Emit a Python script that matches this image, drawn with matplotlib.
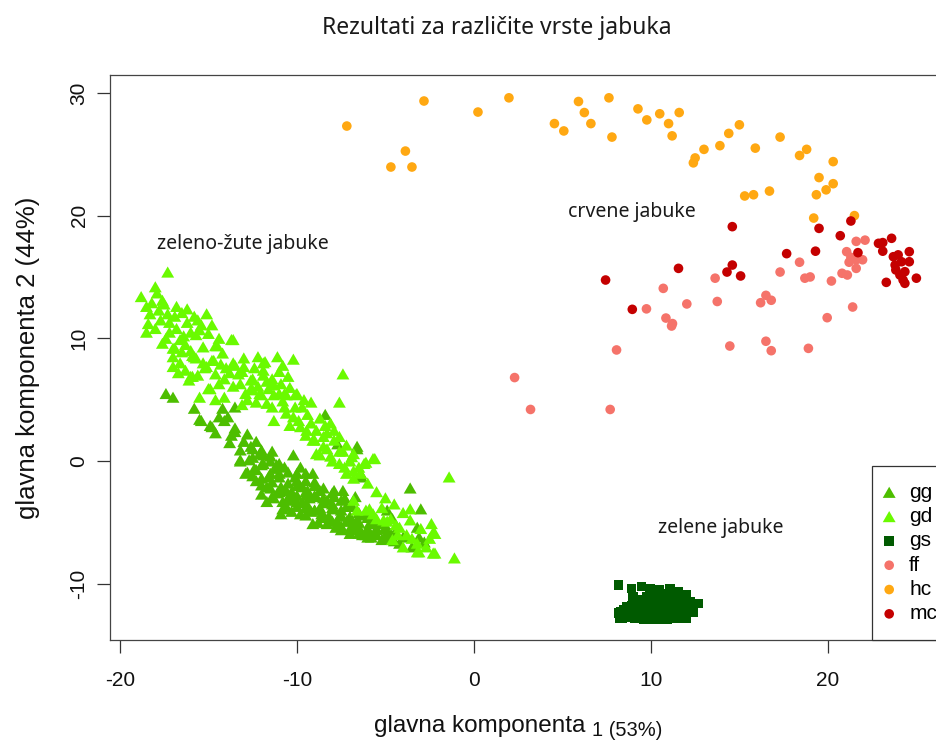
import matplotlib
matplotlib.use('Agg')
import matplotlib.pyplot as plt
from matplotlib.path import Path

plt.rcParams['axes.unicode_minus'] = False

# ---------------- data ----------------
series_names = ['gg', 'gd', 'gs', 'ff', 'hc', 'mc']
series_colors = ['#4DBE00', '#6AFA00', '#005A00', '#F5736A', '#FFA812', '#C40000']

gg_pts = [(-17.4,5.5),(-17.0,5.2),(-15.8,4.3),(-15.5,3.4),(-14.9,2.9),(-14.2,4.3),(-13.9,3.6),(-13.5,4.4),
          (-13.5,2.7),(-13.7,2.1),(-13.2,0.9),(-12.6,1.2),(-12.3,1.6),(-12.1,0.6),(-13.2,0.1),(-12.8,-0.9),
          (-12.4,-0.6),(-11.9,-0.2),(-11.5,0.4),(-11.2,-0.6),(-12.3,-1.6),(-11.7,-2.1),(-11.0,-1.3),(-10.7,-0.5),
          (-11.1,-2.6),(-11.3,-3.0),(-10.6,-2.4),(-10.3,-3.2),(-10.0,-1.6),(-9.7,-2.1),(-9.5,-2.8),(-9.4,-3.6),
          (-9.0,-4.0),(-8.6,-4.3),(-8.3,-3.2),(-7.9,-3.9),(-7.6,-4.5),(-8.1,-4.8),(-7.2,-4.9),(-6.8,-5.4),
          (-6.4,-5.8),(-6.1,-6.0),(-5.5,-5.6),(-5.2,-6.4),(-4.9,-4.0),(-4.6,-4.7),(-3.6,-2.2),(-3.0,-3.9),
          (-3.2,-5.4),(-2.8,-6.6),(-5.9,-5.1),(-8.9,-2.9),(-9.4,-2.4),(-9.8,-0.5),(-10.2,0.5),(-9.1,-1.0),
          (-8.4,3.8),(-7.7,1.4),(-6.6,1.0),(-6.4,-1.0),(-7.4,-2.4),(-6.7,-2.9),(-9.8,-4.3),(-10.6,-3.7),
          (-10.9,-4.3),(-8.7,-2.4),(-7.9,-2.9),(-7.2,-3.7),(-9.5,-4.4),(-8.3,-5.1),(-7.8,-5.4),(-7.0,-5.9),
          (-6.6,-4.8),(-5.7,-4.5),(-4.7,-5.9),(-4.2,-6.7),(-3.5,-7.0),(-3.1,-6.2),(-10.0,-3.7),(-9.1,-5.1),
          (-11.6,-1.3),(-12.7,0.1),(-14.4,3.6),(-14.6,2.3),
          (-15.4,3.3),(-14.8,2.8),(-14.1,3.3),(-13.5,2.4),(-13.2,0.0),(-12.5,1.0),(-11.9,0.5),(-11.4,0.8),
          (-11.15,-0.3),(-12.9,-1.0),(-12.3,-0.7),(-12.0,-1.95),(-11.4,-1.7),(-10.9,-2.1),(-11.4,-2.9),
          (-10.8,-3.3),(-10.3,-4.1),(-10.1,-1.3),(-10.3,-2.5),
          (-9.5,-1.0),(-9.0,-2.0),(-8.5,-3.0),(-8.0,-3.5),(-7.5,-4.0),(-7.0,-4.5),(-6.5,-5.0),(-6.0,-5.5),
          (-5.5,-6.0),(-9.3,-3.0),(-8.7,-3.8),(-8.2,-4.5),(-7.7,-5.0),(-6.9,-5.6),(-6.3,-6.0),(-5.0,-6.0),
          (-4.5,-6.5),(-4.9,-5.5),(-10.0,-2.8),(-9.7,-3.4),(-9.2,-4.1),(-8.6,-4.6),(-7.9,-2.4),(-7.3,-3.0),
          (-6.9,-3.6),(-6.2,-4.4),(-5.4,-5.1),(-5.8,-6.2),(-6.6,1.2),(-6.35,-1.3),
          (-12.5,0.3),(-12.5,-1.2),(-12.0,0.9),(-12.0,-0.3),(-12.0,-1.4),(-11.5,0.0),(-11.5,-1.0),(-11.5,-2.2),
          (-11.0,-0.2),(-11.0,-1.0),(-11.0,-2.5),(-10.5,-0.9),(-10.5,-1.8),(-10.5,-3.0),(-10.0,-1.0),(-10.0,-2.0),
          (-10.0,-3.3),(-9.5,-1.6),(-9.5,-2.5),(-9.5,-3.8),(-9.0,-1.7),(-9.0,-2.8),(-9.0,-4.0),(-8.5,-2.2),
          (-8.5,-3.4),(-8.5,-4.4),(-8.0,-2.6),(-8.0,-3.8),(-8.0,-4.9),(-7.5,-3.2),(-7.5,-4.4),(-7.5,-5.3),
          (-7.0,-3.7),(-7.0,-4.9),(-7.0,-5.5),(-6.5,-4.2),(-6.5,-5.4),(-6.5,-5.9),(-6.0,-4.6),(-6.0,-5.8),
          (-6.0,-6.2),(-5.5,-5.0),(-5.5,-5.5),(-5.0,-5.4),(-5.0,-6.3),(-4.5,-5.9),(-4.0,-6.2),
          (-13.8,1.5),(-13.0,1.6),(-12.8,2.2),(-12.0,-2.7),(-11.7,-3.3),(-10.8,-3.9),(-8.8,-5.0),(-7.5,-5.6)]

gd_pts = [(-17.3,15.4),(-18.8,13.4),(-18.0,14.2),(-17.9,13.7),(-17.6,13.1),(-18.5,12.6),(-17.8,12.3),(-16.8,12.6),
          (-16.5,12.1),(-15.1,12.0),(-15.4,11.1),(-14.8,11.1),(-18.4,11.2),(-17.7,11.5),(-17.2,11.3),(-18.5,10.5),
          (-17.4,10.0),(-16.0,10.5),(-15.7,10.3),(-15.5,10.7),(-16.6,9.9),(-16.3,9.5),(-17.0,9.2),(-13.6,9.9),
          (-14.6,9.4),(-17.0,8.5),(-15.9,8.6),(-15.7,8.4),(-14.8,8.2),(-15.2,7.6),(-17.0,7.7),(-16.3,7.4),
          (-15.6,7.0),(-14.6,7.1),(-16.0,6.9),(-14.1,6.7),(-13.6,8.0),(-13.0,8.4),(-11.9,8.0),(-11.1,8.5),
          (-10.2,8.3),(-13.0,7.7),(-13.3,7.1),(-12.6,6.6),(-11.7,6.5),(-11.3,6.2),(-12.1,5.5),(-11.0,5.5),
          (-10.6,5.4),(-10.0,5.5),(-12.8,5.0),(-11.7,4.7),(-9.7,4.4),(-9.4,3.8),(-8.7,3.5),(-8.1,3.1),
          (-10.6,3.9),(-11.3,3.3),(-10.4,2.9),(-9.8,2.8),(-8.9,2.5),(-9.5,2.1),(-8.3,2.3),(-9.1,1.7),
          (-7.9,1.7),(-7.6,2.0),(-7.6,0.8),(-6.8,0.6),(-6.1,-0.1),(-5.6,0.2),(-8.9,0.6),(-8.1,0.4),
          (-7.6,-0.2),(-7.2,-1.0),(-6.4,-1.0),(-7.4,7.1),(-7.6,4.8),(-1.4,-1.3),(-3.6,-3.9),(-2.4,-5.1),
          (-4.7,-4.7),(-4.2,-5.4),(-3.8,-6.0),(-3.2,-6.7),(-4.6,-6.4),(-4.0,-7.0),(-2.3,-7.5),(-1.1,-7.9),
          (-2.2,-5.9),(-3.1,-7.4),(-6.1,-4.0),(-5.7,-4.3),(-5.1,-4.8),(-6.8,-3.2),(-6.6,-4.0),(-14.4,6.3),
          (-15.5,5.2),(-16.1,6.6),(-14.9,5.9),(-12.5,5.8),(-14.6,5.0),(-13.6,6.1),
          (-9.0,1.7),(-9.45,2.5),(-8.4,2.9),(-8.7,0.5),(-7.4,0.8),(-6.9,0.35),(-5.7,0.2),(-6.2,-0.2),
          (-5.9,-3.9),(-5.5,-4.7),(-4.9,-4.9),(-4.4,-5.2),(-3.6,-4.8),(-2.3,-5.8),(-2.2,-7.5),(-3.2,-7.4),
          (-2.7,-7.0),(-6.8,-1.4),
          (-16.9,9.2),(-14.5,9.4),(-13.7,9.9),(-15.8,8.5),(-14.7,8.2),(-15.1,7.7),(-13.5,7.8),(-11.8,8.1),
          (-15.9,6.9),(-13.1,7.3),(-12.5,6.7),(-11.9,7.4),(-11.4,6.7),(-10.9,6.3),(-15.0,5.9),(-12.9,5.5),
          (-12.6,5.9),(-12.0,5.4),(-11.3,5.4),(-10.7,5.5),(-10.1,5.4),(-11.4,4.4),(-10.7,4.4),(-10.1,4.4),
          (-13.1,4.6),(-14.1,5.2),
          (-18.2,12.9),(-17.5,12.8),(-16.9,11.8),(-16.2,11.3),(-15.8,11.8),(-16.8,10.8),(-18.0,10.8),(-17.6,9.6),
          (-16.5,8.9),(-15.3,9.3),(-14.2,8.8),(-14.0,7.6),(-12.4,7.6),(-12.2,8.5),(-11.0,7.3),(-10.5,6.9),
          (-8.5,1.2),(-8.0,0.0),(-7.3,-0.5),(-6.8,-0.8),(-6.0,-1.8),(-5.5,-2.5),(-5.0,-3.0),(-4.5,-3.5),
          (-4.0,-4.2),(-3.0,-5.5),(-2.5,-6.3),(-3.5,-6.3),(-4.3,-6.0),(-5.2,-3.8),
          (-18.3,12.0),(-17.3,12.0),(-16.2,12.4),(-15.6,11.5),(-16.4,10.2),(-17.2,10.5),(-15.0,10.4),(-14.4,10.0),
          (-16.0,9.0),(-15.3,8.0),(-14.3,7.9),(-13.8,7.2),(-16.6,8.0),(-16.7,7.2),(-13.2,6.3),(-12.2,6.1),
          (-11.9,7.0),(-10.8,7.8),(-11.6,5.9),(-10.4,6.0),(-9.6,5.0),(-9.2,4.8),(-10.2,3.6),(-9.9,3.3),
          (-9.2,3.1),(-8.5,2.0),(-7.9,2.5),(-8.3,1.0),(-7.2,1.3),(-7.0,0.0),(-6.5,-0.5),(-10.8,4.9),(-12.3,4.8)]

gs_pts = [(8.16,-10.1),(8.9,-10.4),(9.47,-10.24),(9.94,-10.4),(10.5,-10.5),(11.07,-10.4),(11.55,-10.65),(12.0,-10.9),
          (12.68,-11.6),(12.2,-11.5),(8.16,-12.4),(8.25,-12.8),(8.63,-11.9),(8.8,-12.7),(9.0,-12.1),(9.38,-12.7),
          (9.76,-12.4),(9.94,-12.9),(10.3,-12.8),(10.7,-12.4),(10.9,-12.9),(11.45,-12.7),(11.8,-12.3),(12.0,-11.9),
          (11.6,-11.6),(11.3,-11.9),(10.9,-11.5),(10.5,-11.9),(10.3,-11.2),(9.94,-11.6),(9.6,-11.9),(9.2,-11.6),
          (9.0,-11.05),(9.76,-11.05),(10.7,-10.9),(11.26,-11.05),(11.7,-11.05),(10.1,-12.1),(11.1,-12.3),(11.55,-12.1),
          (8.44,-12.14),(9.57,-12.9),(10.5,-12.9),(11.8,-12.8),(12.2,-12.3),(12.3,-11.9),(8.5,-12.7),
          (8.4,-12.8),(9.1,-12.8),(9.7,-12.8),(10.1,-12.8),(10.7,-12.8),(11.2,-12.8),(11.6,-12.8),(12.0,-12.8),
          (8.3,-12.3),(8.9,-12.3),(9.4,-12.3),(10.0,-12.3),(10.4,-12.3),(10.9,-12.3),(11.4,-12.3),(12.0,-12.3),
          (12.4,-12.3),(8.9,-11.8),(9.3,-11.8),(9.8,-11.8),(10.2,-11.8),(10.7,-11.8),(11.1,-11.8),(11.5,-11.8),
          (11.9,-11.8),(12.3,-11.8),(9.5,-11.3),(10.0,-11.3),(10.5,-11.3),(10.9,-11.3),(11.4,-11.3),(11.8,-11.3),
          (10.0,-10.8),(10.4,-10.8),(11.0,-10.8),(11.5,-10.8)]

ff_pts = [(2.3,6.8),(3.2,4.2),(7.7,4.2),(8.06,9.05),(9.75,12.4),(10.7,14.07),(10.85,11.65),(11.17,11.0),
          (11.22,11.2),(12.03,12.8),(13.63,14.9),(13.75,13.0),(14.46,9.37),(16.2,12.9),(16.5,13.5),(16.8,13.1),
          (16.5,9.76),(16.8,8.99),(17.3,15.4),(18.4,16.2),(18.7,14.9),(19.0,15.0),(18.9,9.18),(19.96,11.68),
          (20.2,14.67),(20.8,15.3),(21.1,15.16),(21.4,12.55),(21.06,17.06),(21.6,17.9),(22.1,18.0),(21.2,16.2),
          (21.6,16.4),(21.96,16.4),(21.6,15.7),(21.3,16.6)]

hc_pts = [(-7.18,27.3),(-2.82,29.34),(-3.87,25.26),(-4.69,23.96),(-3.5,23.96),(0.23,28.44),(1.98,29.6),(4.55,27.5),
          (5.08,26.9),(5.91,29.3),(6.24,28.4),(6.61,27.5),(7.63,29.6),(7.8,26.4),(9.27,28.7),(9.77,27.8),
          (10.5,28.3),(11.0,27.5),(11.2,26.5),(11.6,28.4),(12.4,24.3),(12.5,24.7),(13.0,25.4),(13.9,25.7),
          (14.4,26.7),(15.0,27.4),(15.9,25.5),(15.3,21.6),(15.8,21.7),(16.7,22.0),(17.3,26.4),(18.4,24.9),
          (18.8,25.4),(20.3,24.4),(19.5,23.1),(20.3,22.6),(19.9,22.1),(19.35,21.7),(19.2,19.8),(21.5,20.0)]

mc_pts = [(7.44,14.75),(8.95,12.36),(11.56,15.7),(14.6,19.1),(14.3,15.4),(14.6,15.97),(15.07,15.08),(17.67,16.9),
          (19.3,17.1),(19.5,18.96),(20.7,18.36),(21.3,19.56),(21.7,16.98),(22.86,17.74),(23.1,17.8),(23.6,18.15),
          (23.1,17.1),(23.3,14.56),(23.7,16.65),(23.97,16.8),(24.16,16.24),(24.6,17.06),(24.6,16.24),(23.84,15.57),
          (24.07,15.16),(24.35,15.43),(24.35,14.48),(25.0,14.9),(24.25,14.75),(23.8,15.97)]

x_ticks = [-20, -10, 0, 10, 20]
y_ticks = [-10, 0, 10, 20, 30]

title_text = 'Rezultati za različite vrste jabuka'
xlabel_main = 'glavna komponenta'
xlabel_sub = '1 (53%)'
ylabel_text = 'glavna komponenta 2 (44%)'
annotations = [('zeleno-žute jabuke', -13.05, 17.7), ('crvene jabuke', 8.93, 20.3), ('zelene jabuke', 13.95, -5.46)]

# ---------------- figure ----------------
W, H = 936, 740
fig = plt.figure(figsize=(W / 100, H / 100), dpi=100)

left_px, right_px, top_px, bottom_px = 110, 950, 75, 640
ax = fig.add_axes([left_px / W, 1 - bottom_px / H, (right_px - left_px) / W, (bottom_px - top_px) / H])
ax.set_xlim(-20.56, 26.9)
ax.set_ylim(-14.59, 31.46)

tri = Path([(-1, -0.866), (1, -0.866), (0, 0.866), (-1, -0.866)],
           [Path.MOVETO, Path.LINETO, Path.LINETO, Path.CLOSEPOLY])

all_pts = [gg_pts, gd_pts, gs_pts, ff_pts, hc_pts, mc_pts]
markers = [tri, tri, 's', 'o', 'o', 'o']
sizes = [86, 86, 46, 48, 48, 48]
handles = []
for name, pts, col, mk, sz in zip(series_names, all_pts, series_colors, markers, sizes):
    xs = [p[0] for p in pts]
    ys = [p[1] for p in pts]
    h = ax.scatter(xs, ys, s=sz, marker=mk, color=col, edgecolors='none', linewidths=0, label=name)
    handles.append(h)

ax.set_xticks(x_ticks)
ax.set_yticks(y_ticks)
tick_font = dict(family='Liberation Sans', size=15)
ax.set_xticklabels([str(v) for v in x_ticks], fontdict=tick_font)
ax.set_yticklabels([str(v) for v in y_ticks], fontdict=tick_font, rotation=90, va='center')
ax.tick_params(axis='x', length=9.4, width=0.9, color='#333333', pad=13, labelcolor='#111111')
ax.tick_params(axis='y', length=9.4, width=0.9, color='#333333', pad=6, labelcolor='#111111')
for sp in ax.spines.values():
    sp.set_color('#444444')
    sp.set_linewidth(0.9)

for txt, x, y in annotations:
    ax.text(x, y, txt, ha='center', va='center', fontsize=14, family='Noto Sans', color='#1a1a1a')

leg = ax.legend(handles=handles, labels=series_names, loc='lower left',
                bbox_to_anchor=((872 - left_px) / (right_px - left_px), 0), borderaxespad=0,
                scatterpoints=1, frameon=True, fancybox=False, framealpha=1, edgecolor='#333333',
                prop=dict(family='Liberation Sans', size=15), handlelength=0.05, handletextpad=0.93,
                borderpad=0.8, labelspacing=0.255)
leg.get_frame().set_linewidth(0.9)

fig.text(497 / W, 1 - 28 / H, title_text, ha='center', va='center', fontsize=16.5, family='Noto Sans', color='#1a1a1a')
fig.text(585 / W, 1 - 726 / H, xlabel_main, ha='right', va='center', fontsize=17.5, family='Liberation Sans', color='#111111')
fig.text(592 / W, 1 - 731 / H, xlabel_sub, ha='left', va='center', fontsize=14.5, family='Liberation Sans', color='#111111')
fig.text(28 / W, 1 - 358 / H, ylabel_text, ha='center', va='center', rotation=90, fontsize=18.5, family='Liberation Sans', color='#111111')

fig.savefig('out.png', dpi=100)
